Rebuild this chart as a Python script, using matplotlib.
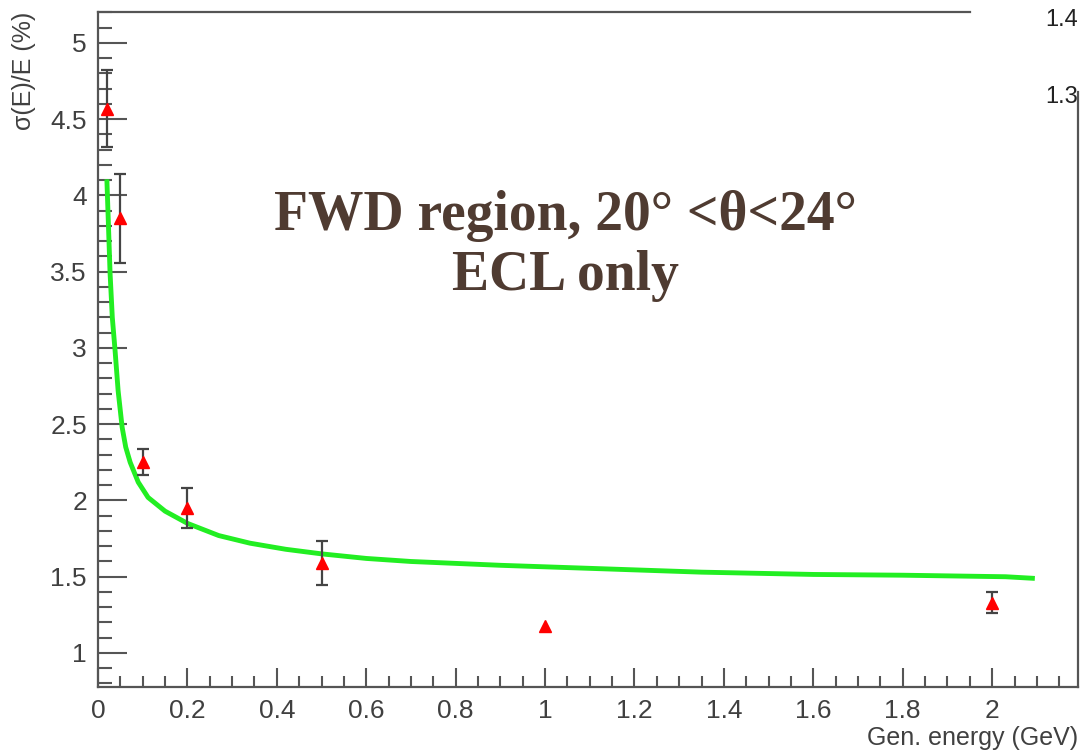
import matplotlib
matplotlib.use('Agg')
import matplotlib.pyplot as plt
from matplotlib.ticker import MultipleLocator

# Measured points (red triangles)
energy = [0.02, 0.05, 0.1, 0.2, 0.5, 1.0, 2.0]
resolution = [4.57, 3.85, 2.25, 1.95, 1.59, 1.18, 1.33]
res_err = [0.25, 0.29, 0.085, 0.13, 0.145, 0.0, 0.07]

# Fit curve
fit_x = [0.02, 0.024, 0.027, 0.032, 0.038, 0.045, 0.054, 0.062, 0.072, 0.09, 0.112,
         0.15, 0.2, 0.27, 0.34, 0.42, 0.5, 0.6, 0.7, 0.9, 1.1, 1.35, 1.6, 1.8,
         2.03, 2.09]
fit_y = [4.09, 3.75, 3.49, 3.2, 2.99, 2.72, 2.48, 2.35, 2.25, 2.12, 2.02,
         1.93, 1.85, 1.77, 1.72, 1.68, 1.65, 1.62, 1.60, 1.575, 1.555, 1.53, 1.515, 1.51,
         1.50, 1.49]

x_ticks = [0, 0.2, 0.4, 0.6, 0.8, 1, 1.2, 1.4, 1.6, 1.8, 2]
x_ticklabels = ['0', '0.2', '0.4', '0.6', '0.8', '1', '1.2', '1.4', '1.6', '1.8', '2']
y_ticks = [1, 1.5, 2, 2.5, 3, 3.5, 4, 4.5, 5]
y_ticklabels = ['1', '1.5', '2', '2.5', '3', '3.5', '4', '4.5', '5']

GREY = '#555555'
LABEL_GREY = '#404040'
TEXT_BROWN = '#4f3b31'

plt.rcParams['font.family'] = ['Liberation Sans', 'DejaVu Sans']

fig = plt.figure(figsize=(10.81, 7.5), dpi=100)
ax = fig.add_axes([98 / 1081, 63 / 750, 980 / 1081, 675 / 750])

ax.plot(fit_x, fit_y, color='#22ee22', linewidth=3.5, zorder=2)

# error bars only where there is one (the 1 GeV point has none)
eb_x = [e for e, s in zip(energy, res_err) if s > 0]
eb_y = [r for r, s in zip(resolution, res_err) if s > 0]
eb_s = [s for s in res_err if s > 0]
ax.errorbar(eb_x, eb_y, yerr=eb_s, fmt='none', ecolor='#444444',
            elinewidth=1.6, capsize=4, capthick=1.6, zorder=3)
ax.plot(energy, resolution, linestyle='none', marker='^', markersize=9,
        color='red', zorder=4)

ax.set_xlim(0, 2.192)
ax.set_ylim(0.777, 5.203)

ax.set_xticks(x_ticks)
ax.set_xticklabels(x_ticklabels)
ax.set_yticks(y_ticks)
ax.set_yticklabels(y_ticklabels)
ax.xaxis.set_minor_locator(MultipleLocator(0.05))
ax.yaxis.set_minor_locator(MultipleLocator(0.1))

ax.tick_params(axis='x', which='major', direction='in', length=14, width=1.5,
               color=GREY, labelsize=19, labelcolor=LABEL_GREY, pad=9)
ax.tick_params(axis='x', which='minor', direction='in', length=8, width=1.5, color=GREY)
ax.tick_params(axis='y', which='major', direction='in', length=21, width=1.5,
               color=GREY, labelsize=19, labelcolor=LABEL_GREY, pad=8)
ax.tick_params(axis='y', which='minor', direction='in', length=10, width=1.5, color=GREY)

for side in ['left', 'bottom', 'top', 'right']:
    ax.spines[side].set_color(GREY)
    ax.spines[side].set_linewidth(1.6)
ax.spines['top'].set_bounds(0, 1.951)
ax.spines['right'].set_bounds(0.777, 4.68)

ax.set_ylabel('σ(E)/E (%)', fontsize=18, color=LABEL_GREY, loc='top', labelpad=10)
ax.set_xlabel('Gen. energy (GeV)', fontsize=18, color=LABEL_GREY, loc='right', labelpad=2)

fig.text(0.5227, 1 - 230 / 750, 'FWD region, 20° <θ<24°', family=['Liberation Serif', 'DejaVu Serif'],
         fontsize=40, fontweight='bold', color=TEXT_BROWN, ha='center', va='baseline')
fig.text(0.5227, 1 - 290 / 750, 'ECL only', family=['Liberation Serif', 'DejaVu Serif'],
         fontsize=40, fontweight='bold', color=TEXT_BROWN, ha='center', va='baseline')

# pieces of a neighbouring plot at the right edge
fig.text(1045 / 1081, 1 - 20 / 750, '1.4', fontsize=17, color='#222222', va='center', ha='left')
fig.text(1045 / 1081, 1 - 97 / 750, '1.3', fontsize=17, color='#222222', va='center', ha='left')

fig.savefig('out.png', dpi=100)
